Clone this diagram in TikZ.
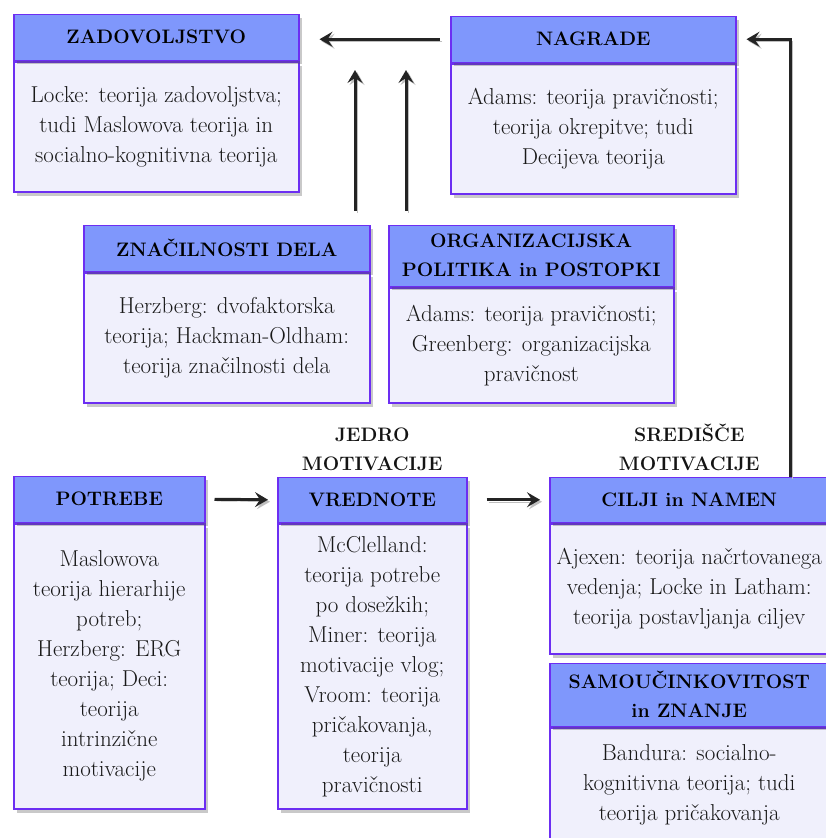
\documentclass[tikz,border=0pt]{standalone}
\usetikzlibrary{positioning,shadows,arrows.meta}

\definecolor{glavaFill}{RGB}{127,151,252}
\definecolor{teloFill}{RGB}{240,240,252}
\definecolor{obroba}{RGB}{108,46,242}
\definecolor{crta}{RGB}{36,36,36}

\tikzset{
  senca/.style={drop shadow={shadow xshift=3pt, shadow yshift=-4pt, opacity=.3, fill=black!70}},
  glava/.style={draw=obroba, fill=glavaFill, line width=1.5pt, inner sep=0pt, align=center,
    text=black, font=\fontsize{19.5}{29}\selectfont\bfseries, senca},
  telo/.style={draw=obroba, fill=teloFill, line width=1.5pt, inner sep=0pt, align=center,
    text=black!90, font=\fontsize{23}{30}\selectfont, senca},
  oznaka/.style={inner sep=0pt, align=center, text=black!92, font=\fontsize{19.5}{29}\selectfont\bfseries},
  link/.style={draw=crta, line width=3pt, -{Stealth[length=13pt,width=15pt,inset=5pt]},
    preaction={draw=black!25, transform canvas={shift={(2pt,-2pt)}}}},
}

\begin{document}
\begin{tikzpicture}[x=1pt, y=-1pt]

  %% ════ zgornja vrsta ════
  \node[telo, minimum width=285pt, minimum height=130pt, anchor=north west] (zadT) at (13,61)
    {Locke: teorija zadovoljstva;\\ tudi Maslowova teorija in\\ socialno-kognitivna teorija};
  \node[glava, minimum width=285pt, minimum height=46pt, above=0pt of zadT] (zadG) {ZADOVOLJSTVO};

  \node[telo, minimum width=285pt, minimum height=130pt, anchor=north west] (nagT) at (450,63)
    {Adams: teorija pravičnosti;\\ teorija okrepitve; tudi\\ Decijeva teorija};
  \node[glava, minimum width=285pt, minimum height=46pt, above=0pt of nagT] (nagG) {NAGRADE};

  %% ════ srednja vrsta ════
  \node[telo, minimum width=286pt, minimum height=130pt, anchor=north west] (znaT) at (83,272)
    {Herzberg: dvofaktorska\\ teorija; Hackman-Oldham:\\ teorija značilnosti dela};
  \node[glava, minimum width=286pt, minimum height=46pt, above=0pt of znaT] (znaG) {ZNAČILNOSTI DELA};

  \node[telo, minimum width=285pt, minimum height=115pt, anchor=north west] (orgT) at (388,287)
    {Adams: teorija pravičnosti;\\ Greenberg: organizacijska\\ pravičnost};
  \node[glava, minimum width=285pt, minimum height=61pt, above=0pt of orgT] (orgG)
    {ORGANIZACIJSKA\\ POLITIKA in POSTOPKI};

  %% ════ spodnja vrsta ════
  \node[telo, minimum width=191pt, minimum height=285pt, anchor=north west] (potT) at (13,523)
    {Maslowova\\ teorija hierarhije\\ potreb;\\ Herzberg: ERG\\ teorija; Deci:\\ teorija\\ intrinzične\\ motivacije};
  \node[glava, minimum width=191pt, minimum height=46pt, above=0pt of potT] (potG) {POTREBE};

  \node[telo, minimum width=189pt, minimum height=285pt, anchor=north west] (vreT) at (277,523)
    {McClelland:\\ teorija potrebe\\ po dosežkih;\\ Miner: teorija\\ motivacije vlog;\\ Vroom: teorija\\ pričakovanja,\\ teorija\\ pravičnosti};
  \node[glava, minimum width=189pt, minimum height=45pt, above=0pt of vreT] (vreG) {VREDNOTE};

  \node[telo, minimum width=279pt, minimum height=130pt, anchor=north west] (cilT) at (549,523)
    {Ajexen: teorija načrtovanega\\ vedenja; Locke in Latham:\\ teorija postavljanja ciljev};
  \node[glava, minimum width=279pt, minimum height=45pt, above=0pt of cilT] (cilG) {CILJI in NAMEN};

  \node[telo, minimum width=279pt, minimum height=115pt, anchor=north west] (samT) at (549,727)
    {Bandura: socialno-\\ kognitivna teorija; tudi\\ teorija pričakovanja};
  \node[glava, minimum width=279pt, minimum height=63pt, above=0pt of samT] (samG)
    {SAMOUČINKOVITOST\\ in ZNANJE};

  %% ════ oznake ════
  \node[oznaka, above=6pt of vreG] (jedro) {JEDRO\\ MOTIVACIJE};
  \node[oznaka, above=6pt of cilG] (sredisce) {SREDIŠČE\\ MOTIVACIJE};

  %% ════ puščice ════
  \coordinate (vrhL) at (355,70);
  \coordinate (vrhD) at (406,70);
  \coordinate (ovinek) at (790,41);
  \draw[link] ([xshift=-10pt]nagG.west) -- ([xshift=20pt]zadG.east |- nagG.west);
  \draw[link] ([yshift=14pt]znaG.north -| vrhL) -- (vrhL);
  \draw[link] ([yshift=14pt]orgG.north -| vrhD) -- (vrhD);
  \draw[link] (cilG.north -| ovinek) |- ([xshift=10pt]nagG.east);
  \draw[link] ([xshift=9pt]potG.east) -- ([xshift=-9pt]vreG.west);
  \draw[link] ([xshift=19pt]vreG.east) -- ([xshift=-9pt]cilG.west);

  % platno 1:1
  \pgfresetboundingbox
  \path[use as bounding box] (0,0) rectangle (826,838);
\end{tikzpicture}
\end{document}
